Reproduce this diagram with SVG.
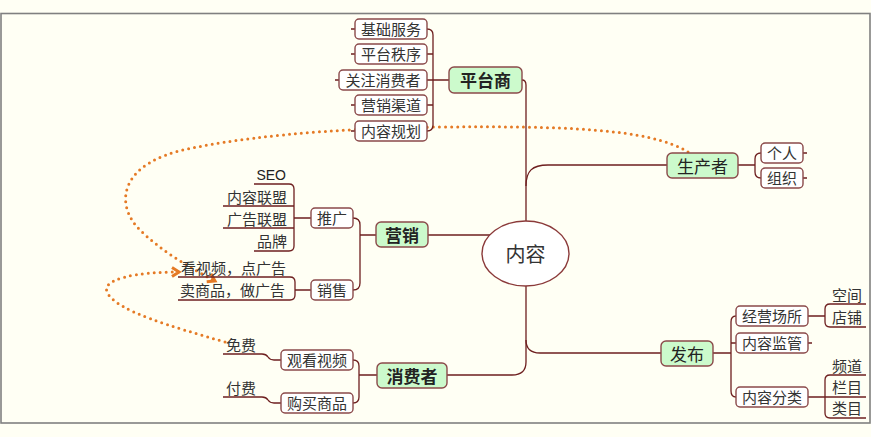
<svg xmlns="http://www.w3.org/2000/svg" width="871" height="437" viewBox="0 0 871 437">
<defs>
<marker id="arr" markerWidth="14" markerHeight="14" refX="8" refY="6" orient="auto" markerUnits="userSpaceOnUse">
<path d="M1,1.5 L8,6 L1,10.5" fill="none" stroke="#e57a25" stroke-width="3" stroke-linejoin="miter"/>
</marker>
<style>
.ln{fill:none;stroke:#6e1f1f;stroke-width:1.3}
.dot{fill:none;stroke:#e57a25;stroke-width:3;stroke-dasharray:0 6;stroke-linecap:round}
.bx{fill:#ffffff;stroke:#8b4a4a;stroke-width:1.4}
.gb{fill:#ccfacc;stroke:#8b4a4a;stroke-width:1.4}
.t{font-family:"Noto Sans CJK SC","Noto Sans",sans-serif;font-size:15px;fill:#333;dominant-baseline:central}
.c{text-anchor:middle}
.r{text-anchor:end}
.g{font-size:17px;fill:#222}
.b{font-weight:bold}
</style>
</defs>
<rect x="0" y="0" width="871" height="437" fill="#fffff4"/>
<rect x="1" y="13.5" width="869" height="409.5" fill="#fffff4" stroke="#808080" stroke-width="1.6"/>

<g id="connectors">
<path class="dot" d="M688,152 C650,128 560,126 440,127 C330,128 230,138 175,152 C120,168 115,205 140,230 C160,250 190,268 215,281" marker-end="url(#arr)"/>
<path class="dot" d="M225,342 C170,326 120,312 108,294 C98,278 140,272 179,272" marker-end="url(#arr)"/>
<path class="ln" d="M522,80 Q526,80 526,85 V221"/>
<path class="ln" d="M526,186 C526,171 532,165 548,165 H667"/>
<path class="ln" d="M526,286 V340 Q526,353 540,353 H661"/>
<path class="ln" d="M526,340 V362 Q526,375 512,375 H447"/>
<path class="ln" d="M428,235 H490"/>
<path class="ln" d="M449,80 H433 M427,29 Q433,29 433,35 V125 Q433,131 427,131 M427,54 H433 M427,80 H433 M427,105 H433"/>
<path class="ln" d="M351,29 H355 M351,54 H355 M335,80 H339 M351,105 H355 M351,131 H355"/>
<path class="ln" d="M353,218 Q360,218 360,225 V283 Q360,290 353,290 M360,235 H376"/>
<path class="ln" d="M254,184 H289 Q294,184 294,189 V246 Q294,251 289,251 H254 M223,206 H294 M223,228 H294 M294,218 H311"/>
<path class="ln" d="M178,277 H290 Q295,277 295,282 V295 Q295,300 290,300 H178 M295,290 H311"/>
<path class="ln" d="M353,360 Q359,360 359,366 V397 Q359,403 353,403 M359,375 H377"/>
<path class="ln" d="M223,354 H262 Q266,354 268,357 Q270,360 274,360 H281 M223,397 H262 Q266,397 268,400 Q270,403 274,403 H281"/>
<path class="ln" d="M738,165 H755 M761,153 Q755,153 755,159 V172 Q755,178 761,178 M803,153 H807 M803,178 H807"/>
<path class="ln" d="M713,353 H731 M736,316 Q731,316 731,322 V391 Q731,397 736,397 M731,343 H736 M808,343 H812"/>
<path class="ln" d="M808,316 H825 M866,304 H830 Q825,304 825,309 V322 Q825,327 830,327 H866"/>
<path class="ln" d="M808,397 H866 M866,375 H830 Q825,375 825,380 V413 Q825,418 830,418 H866"/>
</g>

<g id="center">
<ellipse cx="525.5" cy="253.5" rx="43.5" ry="32.5" fill="#ffffff" stroke="#8b3a3a" stroke-width="1.4"/>
<text class="t c" x="525.5" y="253" style="font-size:20px">内容</text>
</g>

<g id="n-pingtaishang"><rect class="gb" x="449" y="67" width="73" height="26" rx="5"/><text class="t c g b" x="485.5" y="79.5">平台商</text></g>
<g id="n-jichu"><rect class="bx" x="355" y="19" width="72" height="20" rx="4"/><text class="t c" x="391" y="28.5">基础服务</text></g>
<g id="n-zhixu"><rect class="bx" x="355" y="44" width="72" height="20" rx="4"/><text class="t c" x="391" y="53.5">平台秩序</text></g>
<g id="n-guanzhu"><rect class="bx" x="339" y="70" width="88" height="20" rx="4"/><text class="t c" x="383" y="79.5">关注消费者</text></g>
<g id="n-qudao"><rect class="bx" x="355" y="95" width="72" height="20" rx="4"/><text class="t c" x="391" y="104.5">营销渠道</text></g>
<g id="n-guihua"><rect class="bx" x="355" y="121" width="72" height="20" rx="4"/><text class="t c" x="391" y="130.5">内容规划</text></g>

<g id="n-shengchan"><rect class="gb" x="667" y="153" width="71" height="25" rx="5"/><text class="t c g" x="702.5" y="165">生产者</text></g>
<g id="n-geren"><rect class="bx" x="761" y="143" width="42" height="20" rx="4"/><text class="t c" x="782" y="152.5">个人</text></g>
<g id="n-zuzhi"><rect class="bx" x="761" y="168" width="42" height="20" rx="4"/><text class="t c" x="782" y="177.5">组织</text></g>

<g id="n-yingxiao"><rect class="gb" x="376" y="222" width="52" height="25" rx="5"/><text class="t c g b" x="402" y="234">营销</text></g>
<g id="n-tuiguang"><rect class="bx" x="311" y="208" width="42" height="20" rx="4"/><text class="t c" x="332" y="217.5">推广</text></g>
<g id="n-xiaoshou"><rect class="bx" x="311" y="280" width="42" height="20" rx="4"/><text class="t c" x="332" y="289.5">销售</text></g>
<g id="n-seo"><text class="t r" x="286" y="175" style="font-family:'Liberation Sans',Arial,sans-serif;font-size:14px;fill:#222">SEO</text></g>
<g id="n-neirong-lm"><text class="t r" x="287" y="196">内容联盟</text></g>
<g id="n-guanggao-lm"><text class="t r" x="287" y="218">广告联盟</text></g>
<g id="n-pinpai"><text class="t r" x="287" y="240">品牌</text></g>
<g id="n-kan"><text class="t" x="181" y="267">看视频，点广告</text></g>
<g id="n-mai"><text class="t" x="180" y="289">卖商品，做广告</text></g>

<g id="n-xiaofei"><rect class="gb" x="377" y="363" width="70" height="25" rx="5"/><text class="t c g b" x="412" y="375">消费者</text></g>
<g id="n-guankan"><rect class="bx" x="281" y="350" width="72" height="20" rx="4"/><text class="t c" x="317" y="359.5">观看视频</text></g>
<g id="n-goumai"><rect class="bx" x="281" y="393" width="72" height="20" rx="4"/><text class="t c" x="317" y="402.5">购买商品</text></g>
<g id="n-mianfei"><text class="t" x="226" y="344">免费</text></g>
<g id="n-fufei"><text class="t" x="226" y="387">付费</text></g>

<g id="n-fabu"><rect class="gb" x="661" y="341" width="52" height="25" rx="5"/><text class="t c g" x="687" y="353">发布</text></g>
<g id="n-changsuo"><rect class="bx" x="736" y="306" width="72" height="20" rx="4"/><text class="t c" x="772" y="315.5">经营场所</text></g>
<g id="n-jianguan"><rect class="bx" x="736" y="333" width="72" height="20" rx="4"/><text class="t c" x="772" y="342.5">内容监管</text></g>
<g id="n-fenlei"><rect class="bx" x="736" y="387" width="72" height="20" rx="4"/><text class="t c" x="772" y="396.5">内容分类</text></g>
<g id="n-kongjian"><text class="t" x="832" y="294">空间</text></g>
<g id="n-dianpu"><text class="t" x="832" y="316">店铺</text></g>
<g id="n-pindao"><text class="t" x="832" y="365">频道</text></g>
<g id="n-lanmu"><text class="t" x="832" y="386">栏目</text></g>
<g id="n-leimu"><text class="t" x="832" y="407">类目</text></g>
</svg>
